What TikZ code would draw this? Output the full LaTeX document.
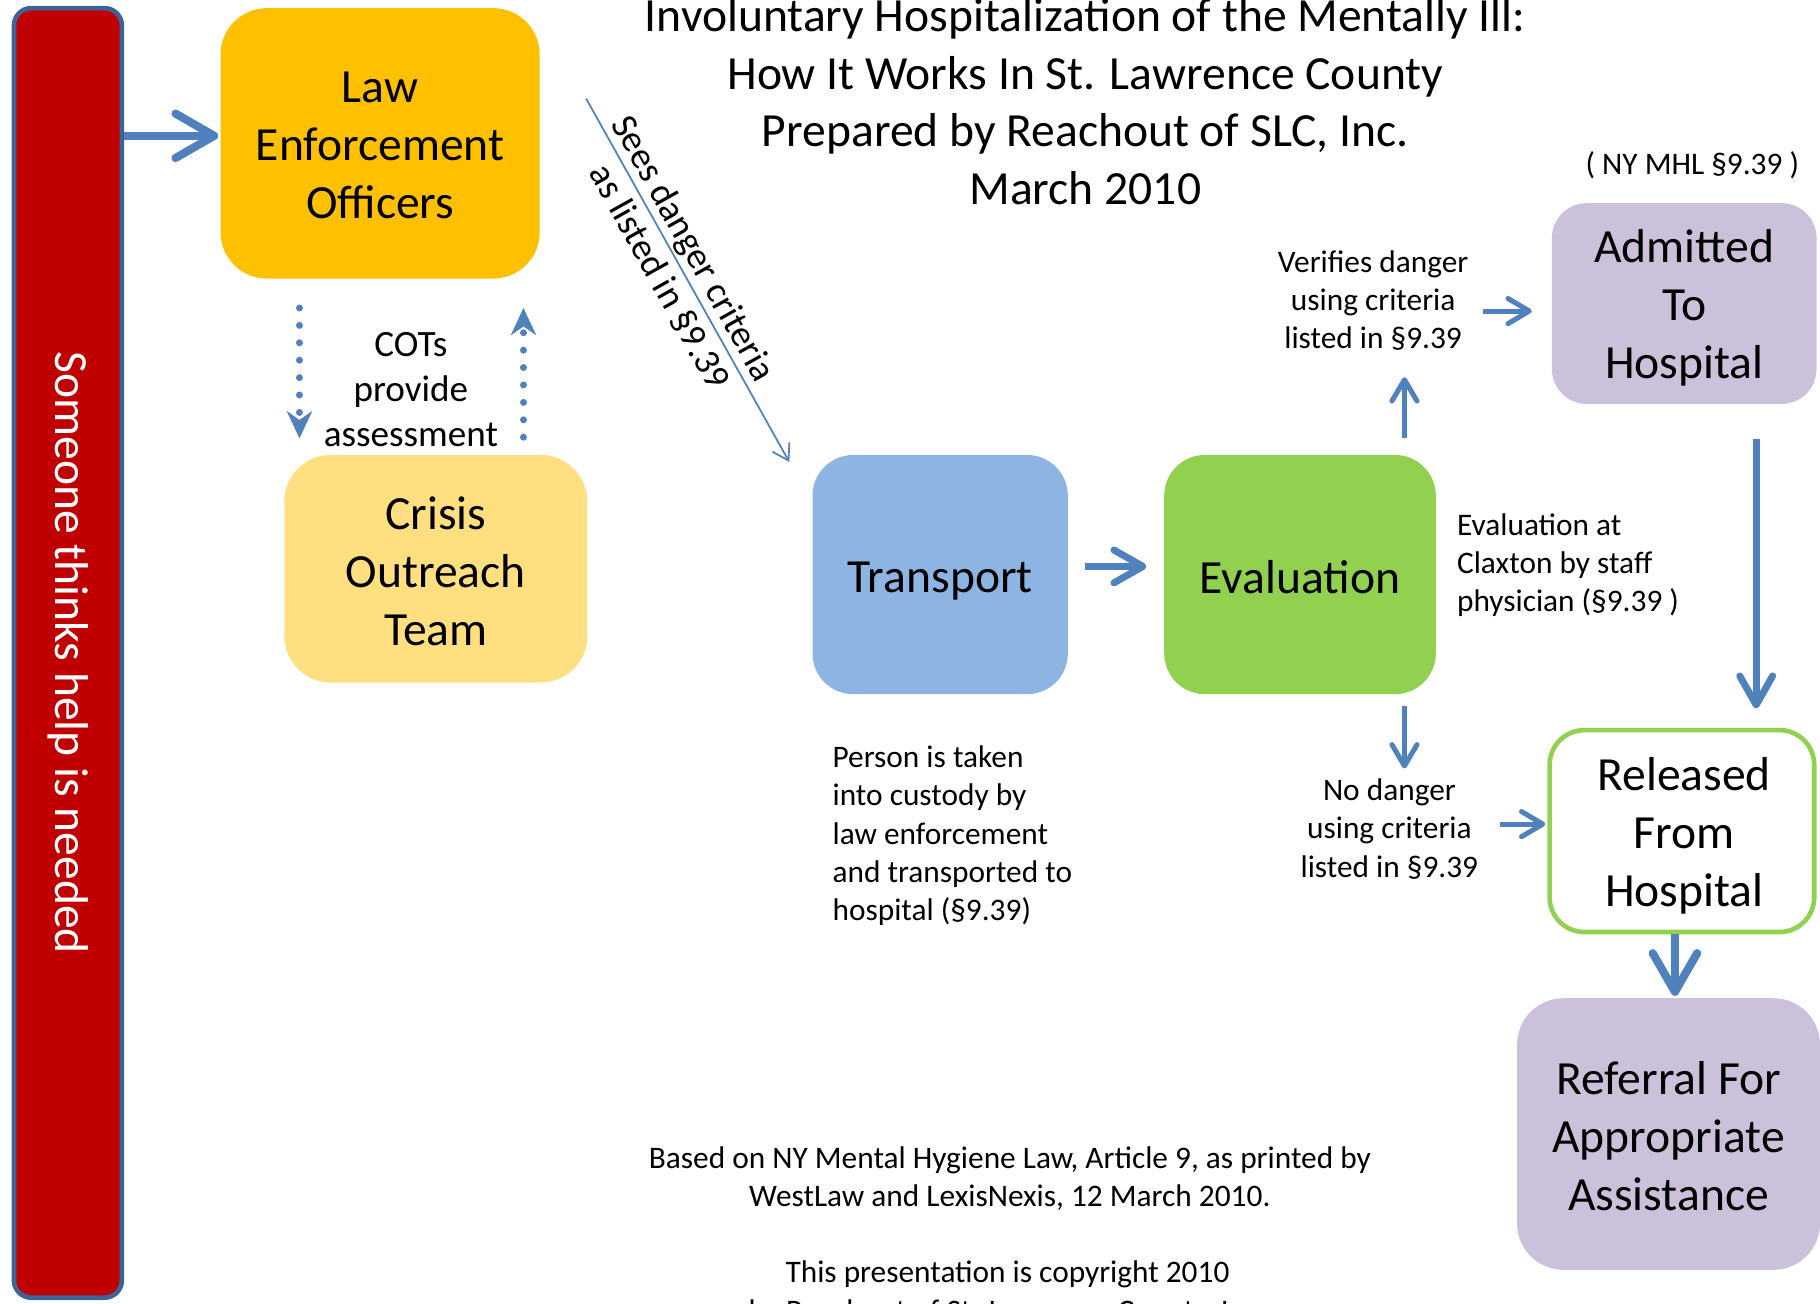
\documentclass[tikz,border=0pt]{standalone}
\usepackage{fontspec}
\setmainfont{Carlito}
\usetikzlibrary{arrows.meta}
\definecolor{ablue}{HTML}{4F81BD}
\definecolor{barborder}{HTML}{3C6496}
\definecolor{barred}{HTML}{C00000}
\definecolor{lawfill}{HTML}{FFC000}
\definecolor{cotfill}{HTML}{FFDF80}
\definecolor{transfill}{HTML}{8EB4E3}
\definecolor{evalfill}{HTML}{92D050}
\definecolor{lavfill}{HTML}{CCC1DA}
\newcommand\fsBig{\fontsize{24.6pt}{30pt}\selectfont}
\newcommand\fsTitle{\fontsize{24.6pt}{29.7pt}\selectfont}
\newcommand\fsMed{\fontsize{19.2pt}{23.4pt}\selectfont}
\newcommand\fsSmall{\fontsize{16.2pt}{19.8pt}\selectfont}
\begin{document}
\begin{tikzpicture}[x=0.6pt,y=-0.6pt,
  box/.style={rounded corners=#1, inner sep=0pt},
  boxtext/.style={inner sep=0pt, align=center, font=\fsBig, text=black},
  lbl/.style={inner sep=0pt, font=\fsSmall, text=black},
  bigA/.style={draw=ablue, line width=4.2pt, -{Straight Barb[length=20pt,width=23pt,round]}},
  midA/.style={draw=ablue, line width=3.6pt, -{Straight Barb[length=15pt,width=17pt,round]}},
  smallA/.style={draw=ablue, line width=2.6pt, -{Straight Barb[length=11pt,width=13pt,round]}},
  dotA/.style={draw=ablue, line width=3.6pt, line cap=round, dash pattern=on 0pt off 9pt, -{Stealth[length=14pt,width=13pt,inset=4.5pt]}},
  thinA/.style={draw=ablue, line width=0.9pt, -{Straight Barb[length=8pt,width=10pt]}}
]
\useasboundingbox (0,0) rectangle (1568,1123);
\clip (0,0) rectangle (1568,1123);

% left bar
\node[draw=barborder, line width=2.4pt, fill=barred, rounded corners=9pt,
      minimum width=55.8pt, minimum height=666.6pt, inner sep=0pt] (bar) at (58.5,562.5) {};
\node[rotate=-90, inner sep=0pt, font=\fsBig, text=white] (bartext) at (bar.center) {Someone thinks help is needed};

% boxes
\node[box=24pt, fill=lawfill, minimum width=165pt, minimum height=139.8pt] (law) at (327.5,123.5) {};
\node[boxtext] (lawT) at ([yshift=-1.2pt]law.center) {Law\\Enforcement\\Officers};
\node[box=24pt, fill=cotfill, minimum width=156.6pt, minimum height=117.6pt] (cot) at (375.5,490) {};
\node[boxtext] (cotT) at ([yshift=-1.5pt]cot.center) {Crisis\\Outreach\\Team};
\node[box=21pt, fill=transfill, minimum width=132pt, minimum height=123.6pt] (transport) at (810,495) {};
\node[boxtext] (transportT) at ([yshift=-3.6pt]transport.center) {Transport};
\node[box=21pt, fill=evalfill, minimum width=140.4pt, minimum height=123.6pt] (evaluation) at (1120,495) {};
\node[boxtext] (evaluationT) at ([yshift=-1.2pt]evaluation.center) {Evaluation};
\node[box=18pt, fill=lavfill, minimum width=136.8pt, minimum height=103.8pt] (admitted) at (1451,261.5) {};
\node[boxtext] (admittedT) at ([yshift=-2.4pt]admitted.center) {Admitted\\To\\Hospital};
\node[box=18pt, draw=evalfill, line width=2.4pt, fill=white, minimum width=136.8pt, minimum height=104.4pt] (released) at (1449,716) {};
\node[boxtext] (releasedT) at ([yshift=-2.4pt,xshift=1.2pt]released.center) {Released\\From\\Hospital};
\node[box=24pt, fill=lavfill, minimum width=156.6pt, minimum height=140.4pt] (referral) at (1437.5,977) {};
\node[boxtext] (referralT) at ([yshift=-1.2pt]referral.center) {Referral For\\Appropriate\\Assistance};

% title and labels
\node[inner sep=0pt, align=center, font=\fsTitle] (title) at (935,87.5)
  {Involuntary Hospitalization of the Mentally Ill:\\How It Works In St. Lawrence County\\Prepared by Reachout of SLC, Inc.\\March 2010};
\node[lbl] (nymhl) at (1458,142.5) {( NY MHL §9.39 )};
\node[inner sep=0pt, align=center, font=\fsMed] (cots) at (354,335.5) {COTs\\provide\\assessment};
\node[lbl, align=center] (verify) at (1183,259) {Verifies danger\\using criteria\\listed in §9.39};
\node[lbl, align=left, anchor=west] (evalnote) at (1255,487) {Evaluation at\\Claxton by staff\\physician (§9.39 )};
\node[lbl, align=center] (nodanger) at (1197,714) {No danger\\using criteria\\listed in §9.39};
\node[lbl, align=left, anchor=west] (person) at (717,720) {Person is taken\\into custody by\\law enforcement\\and transported to\\hospital (§9.39)};
\node[lbl, align=center] (based) at (870,1015.5) {Based on NY Mental Hygiene Law, Article 9, as printed by\\WestLaw and LexisNexis, 12 March 2010.};
\node[lbl, align=center] (copy) at (868,1114.5) {This presentation is copyright 2010\\by Reachout of St. Lawrence County, Inc.};

% coordinates for free ends
\coordinate (dStart) at (505,85);
\coordinate (dEnd) at (680,398);
\coordinate (upTip) at (1210,325);
\coordinate (vTail) at (1278,268);
\coordinate (ndTip) at (1210,662);
\coordinate (ndTail) at (1292,710);

% connectors
\draw[bigA, shorten >=1pt] ([yshift=3.9pt]law.west -| bar.east) -- ([yshift=3.9pt]law.west);
\draw[dotA, shorten <=15pt, shorten >=8.4pt] ([xshift=-41.7pt]law.south) -- ([xshift=-41.7pt]law.south |- cot.north);
\draw[dotA, shorten <=9pt, shorten >=15pt] ([xshift=74.1pt]law.south |- cot.north) -- ([xshift=74.1pt]law.south);
\draw[thinA] (dStart) -- node[sloped, above=1pt, pos=0.44, inner sep=0pt, font=\fsMed] {Sees danger criteria}
   node[sloped, below=4pt, pos=0.46, inner sep=0pt, font=\fsMed] {as listed in §9.39} (dEnd);
\draw[midA, shorten <=8.4pt, shorten >=9pt] ([yshift=4.2pt]transport.east) -- ([yshift=4.2pt]evaluation.west);
\draw[smallA, shorten <=8.4pt] (evaluation.north -| upTip) -- (upTip);
\draw[smallA, shorten >=10.2pt] (vTail) -- (vTail -| admitted.west);
\draw[midA, shorten <=18pt, shorten >=10pt] ([xshift=37.2pt]admitted.south) -- ([xshift=37.2pt]admitted.south |- released.north);
\draw[smallA, shorten <=6pt] (evaluation.south -| ndTip) -- (ndTip);
\draw[smallA, shorten >=1pt] (ndTail) -- (ndTail -| released.west);
\draw[bigA, shorten >=1pt] ([xshift=-3.6pt]released.south) -- ([xshift=-3.6pt]released.south |- referral.north);
\end{tikzpicture}
\end{document}
